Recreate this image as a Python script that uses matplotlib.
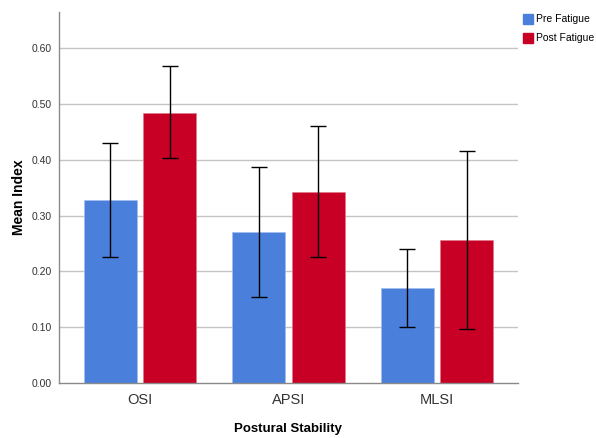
import matplotlib.pyplot as plt
import numpy as np
from matplotlib.patches import Patch

plt.rcParams['font.family'] = ['Liberation Sans', 'DejaVu Sans']

categories = ['OSI', 'APSI', 'MLSI']
pre_mean = [0.328, 0.271, 0.171]
pre_low = [0.226, 0.155, 0.101]
pre_high = [0.431, 0.387, 0.241]
post_mean = [0.484, 0.343, 0.257]
post_low = [0.403, 0.226, 0.097]
post_high = [0.568, 0.461, 0.416]

blue = '#4a80db'
red = '#c80026'

fig = plt.figure(figsize=(5.96, 4.38), dpi=100)
ax = fig.add_axes([0.099, 0.1256, 0.77, 0.847])

x = np.arange(len(categories))
w = 0.357
off = 0.199

pre_err = [np.array(pre_mean) - np.array(pre_low), np.array(pre_high) - np.array(pre_mean)]
post_err = [np.array(post_mean) - np.array(post_low), np.array(post_high) - np.array(post_mean)]

ax.bar(x - off, pre_mean, w, color=blue, edgecolor='#9fbdf0', linewidth=0.5, zorder=2)
ax.bar(x + off, post_mean, w, color=red, edgecolor='#e07a8c', linewidth=0.5, zorder=2)
ax.errorbar(x - off, pre_mean, yerr=pre_err, fmt='none', ecolor='black', elinewidth=1,
            capsize=5.5, capthick=1, zorder=3)
ax.errorbar(x + off, post_mean, yerr=post_err, fmt='none', ecolor='black', elinewidth=1,
            capsize=5.5, capthick=1, zorder=3)

ax.set_xlim(-0.545, 2.545)
ax.set_ylim(0, 0.665)
yt = np.arange(0, 0.61, 0.1)
ax.set_yticks(yt)
ax.set_yticklabels(['%.2f' % v for v in yt], fontsize=7.5, color='#333333')
ax.set_xticks(x)
ax.set_xticklabels(categories, fontsize=10.5, color='#333333')
ax.tick_params(length=0, pad=5)
ax.tick_params(axis='x', pad=7)

for v in yt[1:]:
    ax.axhline(v, color='#c4c4c4', linewidth=1, zorder=1)

for s in ['top', 'right']:
    ax.spines[s].set_visible(False)
for s in ['left', 'bottom']:
    ax.spines[s].set_color('#8a8a8a')
    ax.spines[s].set_linewidth(1)

ax.set_ylabel('Mean Index', fontsize=10, fontweight='bold', labelpad=4)
ax.set_xlabel('Postural Stability', fontsize=9.5, fontweight='bold', labelpad=12)

handles = [Patch(color=blue, label='Pre Fatigue'), Patch(color=red, label='Post Fatigue')]
fig.legend(handles=handles, loc='upper left', bbox_to_anchor=(0.866, 0.985), frameon=False,
           fontsize=7.5, handlelength=0.9, handleheight=1.1, handletextpad=0.35,
           labelspacing=0.8, borderpad=0.2)

fig.savefig('out.png', dpi=100)
